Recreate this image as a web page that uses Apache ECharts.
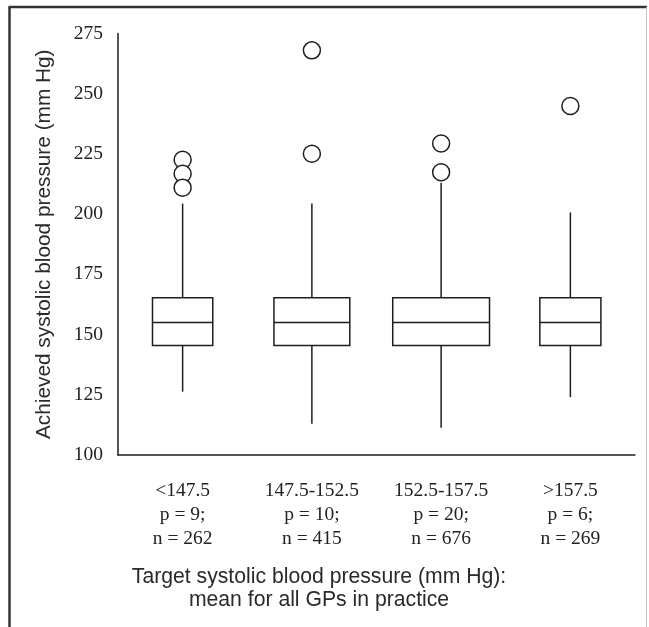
<!DOCTYPE html>
<html>
<head>
<meta charset="utf-8">
<script src="https://cdn.jsdelivr.net/npm/echarts@6/dist/echarts.min.js"></script>
<style>
html,body{margin:0;padding:0;background:#fff;}
#chart{width:649px;height:627px;}
</style>
</head>
<body>
<div id="chart"></div>
<script>
// ---- data ----
const categories = ['<147.5', '147.5-152.5', '152.5-157.5', '>157.5'];
const practices = [9, 10, 20, 6];          // p
const patients = [262, 415, 676, 269];     // n
const whiskerLow = [126.3, 113, 111.3, 124];
const quartile1 = [145.5, 145.5, 145.5, 145.5];
const medians = [155, 155, 155, 155];
const quartile3 = [165.3, 165.3, 165.3, 165.3];
const whiskerHigh = [204.4, 204.4, 213, 200.7];
const outliers = [[222.6, 216.8, 211], [268, 225.1], [229.3, 217.4], [244.9]];
const yTicks = [100, 125, 150, 175, 200, 225, 250, 275];

// ---- build series data ----
const boxData = categories.map((c, i) => [i, whiskerLow[i], quartile1[i], medians[i], quartile3[i], whiskerHigh[i], patients[i]]);
const outlierData = [];
outliers.forEach((arr, i) => arr.forEach(v => outlierData.push([i, v])));

const INK = '#1e1e1e';
const LW = 1.5;

function renderBox(params, api) {
  const x = api.value(0);
  const pLow = api.coord([x, api.value(1)]);
  const pQ1 = api.coord([x, api.value(2)]);
  const pMed = api.coord([x, api.value(3)]);
  const pQ3 = api.coord([x, api.value(4)]);
  const pHigh = api.coord([x, api.value(5)]);
  const band = api.size([1, 0])[0];
  const w = band * 0.0288 * Math.sqrt(api.value(6));
  const cx = pMed[0];
  const st = { stroke: INK, lineWidth: LW, fill: null };
  return {
    type: 'group',
    children: [
      { type: 'line', shape: { x1: cx, y1: pQ3[1], x2: cx, y2: pHigh[1] }, style: st },
      { type: 'line', shape: { x1: cx, y1: pQ1[1], x2: cx, y2: pLow[1] }, style: st },
      { type: 'rect', shape: { x: cx - w / 2, y: pQ3[1], width: w, height: pQ1[1] - pQ3[1] }, style: { stroke: INK, lineWidth: LW, fill: '#fff' } },
      { type: 'line', shape: { x1: cx - w / 2, y1: pMed[1], x2: cx + w / 2, y2: pMed[1] }, style: st }
    ]
  };
}

const chart = echarts.init(document.getElementById('chart'), null, { renderer: 'canvas' });
chart.setOption({
  backgroundColor: '#fff',
  animation: false,
  grid: { left: 118, right: 14, top: 33.5, bottom: 172 },
  graphic: [
    { type: 'line', shape: { x1: 9.5, y1: 7, x2: 9.5, y2: 627 }, style: { stroke: '#333', lineWidth: 2.5 } },
    { type: 'line', shape: { x1: 8.5, y1: 7, x2: 647, y2: 7 }, style: { stroke: '#333', lineWidth: 2.5 } },
    { type: 'line', shape: { x1: 646.5, y1: 7, x2: 646.5, y2: 627 }, style: { stroke: '#c8c8c8', lineWidth: 1 } }
  ],
  xAxis: {
    type: 'category',
    data: categories,
    boundaryGap: true,
    axisLine: { lineStyle: { color: INK, width: LW } },
    axisTick: { show: false },
    splitLine: { show: false },
    axisLabel: {
      interval: 0,
      margin: 24,
      fontFamily: 'Liberation Serif',
      fontSize: 19.5,
      lineHeight: 24,
      color: '#222',
      formatter: function (v, i) { return v + '\np = ' + practices[i] + ';\nn = ' + patients[i]; }
    },
    name: 'Target systolic blood pressure (mm Hg):\nmean for all GPs in practice',
    nameLocation: 'middle',
    nameGap: 111,
    nameTextStyle: {
      fontFamily: 'Liberation Sans',
      fontSize: 21.2,
      lineHeight: 23,
      color: '#2a2a2a',
      padding: [0, 115, 0, 0]
    }
  },
  yAxis: {
    type: 'value',
    min: yTicks[0],
    max: yTicks[yTicks.length - 1],
    interval: 25,
    axisLine: { show: true, lineStyle: { color: INK, width: LW } },
    axisTick: { show: false },
    splitLine: { show: false },
    axisLabel: {
      margin: 15,
      fontFamily: 'Liberation Serif',
      fontSize: 19.5,
      color: '#222'
    },
    name: 'Achieved systolic blood pressure (mm Hg)',
    nameLocation: 'middle',
    nameGap: 63,
    nameTextStyle: {
      fontFamily: 'Liberation Sans',
      fontSize: 20.8,
      color: '#2a2a2a'
    }
  },
  series: [
    {
      type: 'custom',
      name: 'Achieved SBP',
      renderItem: renderBox,
      data: boxData,
      encode: { x: 0, y: [1, 2, 3, 4, 5] },
      z: 2
    },
    {
      type: 'scatter',
      name: 'Outliers',
      data: outlierData,
      symbol: 'circle',
      symbolSize: 17,
      itemStyle: { color: '#fff', borderColor: INK, borderWidth: LW, opacity: 1 },
      z: 3
    }
  ]
});
</script>
</body>
</html>
